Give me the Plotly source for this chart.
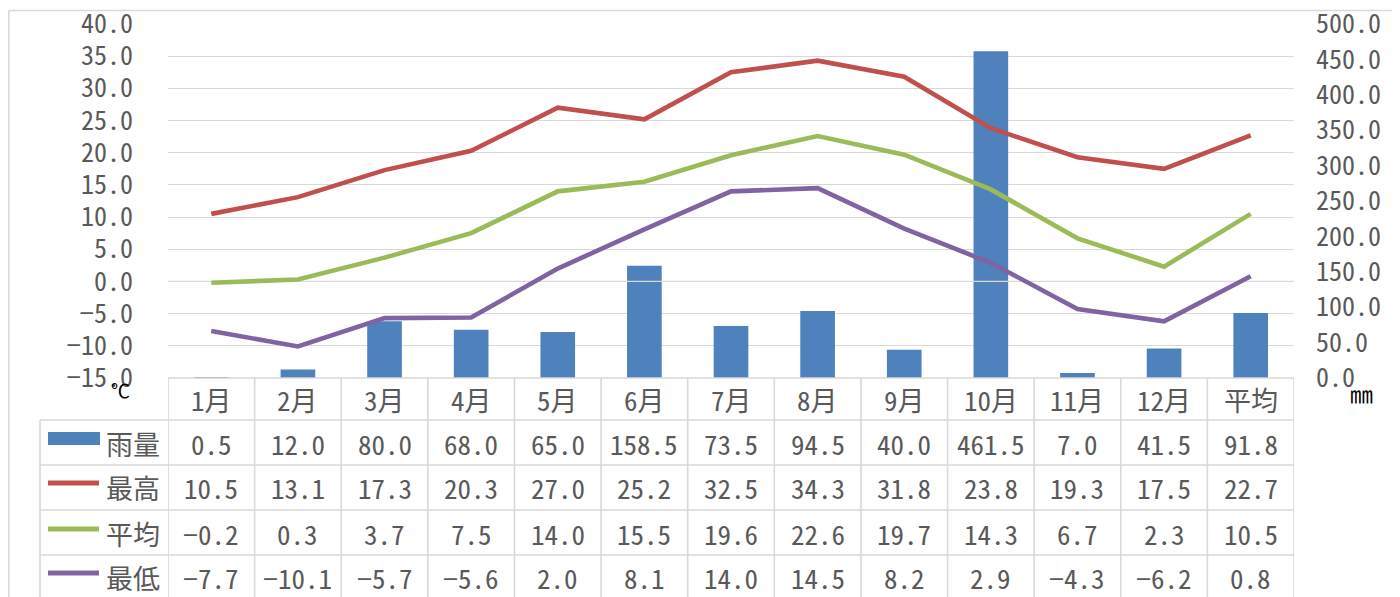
import plotly.graph_objects as go

months = ["1月", "2月", "3月", "4月", "5月", "6月", "7月", "8月", "9月", "10月", "11月", "12月", "平均"]
rain = [0.5, 12.0, 80.0, 68.0, 65.0, 158.5, 73.5, 94.5, 40.0, 461.5, 7.0, 41.5, 91.8]
t_max = [10.5, 13.1, 17.3, 20.3, 27.0, 25.2, 32.5, 34.3, 31.8, 23.8, 19.3, 17.5, 22.7]
t_avg = [-0.2, 0.3, 3.7, 7.5, 14.0, 15.5, 19.6, 22.6, 19.7, 14.3, 6.7, 2.3, 10.5]
t_min = [-7.7, -10.1, -5.7, -5.6, 2.0, 8.1, 14.0, 14.5, 8.2, 2.9, -4.3, -6.2, 0.8]
series_names = ["雨量", "最高", "平均", "最低"]
unit_left = "℃"
unit_right = "㎜"

# page body has an 8px margin: the figure is offset by (8, 8) on screen
OX, OY = 8, 8
SW, SH = 1400, 597
W, H = SW - OX, SH - OY
L, R, T, B = 168, 1294, 24, 378   # plot area in screen pixels


def px(x):
    return (x - L) / (R - L)


def py(y):
    return (B - y) / (B - T)


BLUE, RED, GREEN, PURPLE = "#4F81BD", "#C0504D", "#9BBB59", "#8064A2"
GRID = "#d9d9d9"
TXT = "#595959"
FONT = "Noto Sans Mono CJK JP, Noto Sans CJK JP, sans-serif"
FS = 27
TFS = 26

xs = list(range(len(months)))
fig = go.Figure()
fig.add_trace(go.Bar(x=xs, y=rain, yaxis="y", marker=dict(color=BLUE, line=dict(width=0)),
                     width=0.4, name=series_names[0], hoverinfo="skip"))
# horizontal axis line at 0 °C (drawn above bars, below lines)
fig.add_trace(go.Scatter(x=[-0.5, len(months) - 0.5], y=[0, 0], yaxis="y2", mode="lines",
                         line=dict(color=GRID, width=1.3), hoverinfo="skip", showlegend=False))
for vals, col, nm in [(t_max, RED, series_names[1]), (t_avg, GREEN, series_names[2]),
                      (t_min, PURPLE, series_names[3])]:
    fig.add_trace(go.Scatter(x=xs, y=vals, yaxis="y2", mode="lines", name=nm,
                             line=dict(color=col, width=4.6), hoverinfo="skip"))

fig.update_layout(
    width=W, height=H,
    margin=dict(l=L - OX, r=SW - R, t=T - OY, b=SH - B, pad=0),
    paper_bgcolor="white", plot_bgcolor="white",
    showlegend=False,
    font=dict(family=FONT, size=FS, color=TXT),
    xaxis=dict(range=[-0.5, len(months) - 0.5], showticklabels=False, showgrid=False,
               zeroline=False, showline=False, fixedrange=True, automargin=False),
    yaxis=dict(range=[0, 500], dtick=50, tickformat=".1f", side="right", showgrid=False,
               zeroline=False, showline=False, ticks="", ticklabelstandoff=21, automargin=False,
               ticklabeloverflow="allow", tickfont=dict(family=FONT, size=TFS, color=TXT)),
    yaxis2=dict(range=[-15, 40], dtick=5, tickformat=".1f", side="left", overlaying="y",
                showgrid=True, gridcolor=GRID, gridwidth=1.3, zeroline=False, showline=False,
                ticks="", ticklabelstandoff=34, automargin=False, ticklabeloverflow="allow",
                tickfont=dict(family=FONT, size=TFS, color=TXT)),
)

shapes = []
lw = 1.6
# chart border
shapes.append(dict(type="line", xref="paper", yref="paper", x0=px(8.8), x1=px(1405), y0=py(10.5), y1=py(10.5),
                   line=dict(color=GRID, width=1.5)))
shapes.append(dict(type="line", xref="paper", yref="paper", x0=px(8.8), x1=px(8.8), y0=py(10.5), y1=py(605),
                   line=dict(color=GRID, width=1.5)))
# table horizontal lines
shapes.append(dict(type="line", xref="paper", yref="paper", x0=0, x1=1, y0=0, y1=0,
                   line=dict(color=GRID, width=lw)))
for ypix in [420, 465, 510, 555]:
    shapes.append(dict(type="line", xref="paper", yref="paper", x0=px(40), x1=1, y0=py(ypix), y1=py(ypix),
                       line=dict(color=GRID, width=lw)))
# table vertical lines
for k in range(len(months) + 1):
    shapes.append(dict(type="line", xref="x", yref="paper", x0=k - 0.5, x1=k - 0.5, y0=0, y1=py(605),
                       line=dict(color=GRID, width=lw)))
shapes.append(dict(type="line", xref="paper", yref="paper", x0=px(40), x1=px(40), y0=py(420), y1=py(605),
                   line=dict(color=GRID, width=lw)))
# legend keys
shapes.append(dict(type="rect", xref="paper", yref="paper", x0=px(48), x1=px(100), y0=py(445), y1=py(432),
                   fillcolor=BLUE, line=dict(width=0)))
for ypix, col in [(483, RED), (529, GREEN), (573, PURPLE)]:
    shapes.append(dict(type="line", xref="paper", yref="paper", x0=px(48), x1=px(99), y0=py(ypix), y1=py(ypix),
                       line=dict(color=col, width=5)))
fig.update_layout(shapes=shapes)


def note(x, y, text, xref="paper", size=FS, color=TXT):
    return dict(x=x, y=y, xref=xref, yref="paper", text=text, showarrow=False,
                xanchor="center", yanchor="middle", font=dict(family=FONT, size=size, color=color))


ann = []
header_y = 399
row_y = [443, 488, 533, 577]
for i, m in enumerate(months):
    ann.append(note(i, py(header_y), m, xref="x"))
for r, vals in enumerate([rain, t_max, t_avg, t_min]):
    for i, v in enumerate(vals):
        s = f"{v:.1f}".replace("-", "\u2212")
        ann.append(note(i, py(row_y[r]), s, xref="x"))
    ann.append(note(px(133), py(row_y[r]), series_names[r]))
ann.append(note(px(120), py(390), unit_left, size=19, color="black"))
ann.append(note(px(1361), py(393), unit_right, size=23, color="black"))
fig.update_layout(annotations=ann)

fig.write_html("out.html")
